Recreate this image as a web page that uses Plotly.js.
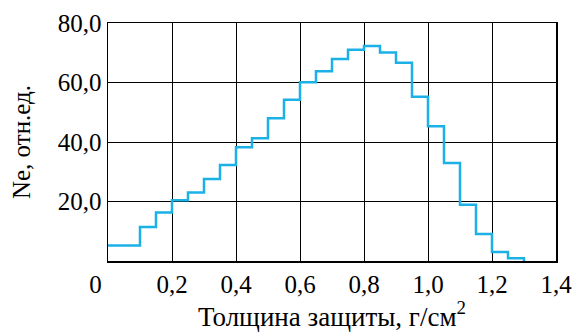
<!DOCTYPE html>
<html>
<head>
<meta charset="utf-8">
<script src="https://cdn.plot.ly/plotly-3.0.1.min.js"></script>
<style>html,body{margin:0;padding:0;background:#fff;}#chart{width:574px;height:332px;}</style>
</head>
<body>
<div id="chart"></div>
<script>
// Bin left edges (g/cm^2) and relative Ne values
const binStart = [0, 0.10, 0.15, 0.20, 0.25, 0.30, 0.35, 0.40, 0.45, 0.50, 0.55, 0.60, 0.65, 0.70, 0.75, 0.80, 0.85, 0.90, 0.95, 1.00, 1.05, 1.10, 1.15, 1.20, 1.25];
const neValues = [5.2, 11.4, 16.3, 20.4, 23.0, 27.6, 32.3, 38.2, 41.3, 48.0, 54.2, 60.1, 63.8, 67.9, 71.0, 72.3, 70.1, 66.6, 55.2, 45.3, 32.9, 18.9, 9.1, 3.0, 0.9];
const lastEdge = 1.30;

const xTickVals = [0, 0.2, 0.4, 0.6, 0.8, 1.0, 1.2, 1.4];
const xTickText = ["0\u00a0\u00a0\u00a0\u00a0", "0,2", "0,4", "0,6", "0,8", "1,0", "1,2", "1,4"];
const yTickVals = [20, 40, 60, 80];
const yTickText = ["20,0", "40,0", "60,0", "80,0"];

const xs = binStart.concat([lastEdge, lastEdge]);
const ys = neValues.concat([neValues[neValues.length - 1], 0]);

const font = {family: "Liberation Serif, DejaVu Serif, serif", size: 25, color: "#000"};
const xTitleFont = {family: "Liberation Serif, DejaVu Serif, serif", size: 27, color: "#000"};

Plotly.newPlot("chart", [{
  x: xs, y: ys, type: "scatter", mode: "lines",
  line: {shape: "hv", color: "#1bb1e7", width: 2.5},
  hoverinfo: "none"
}], {
  width: 574, height: 332,
  margin: {l: 108, r: 18, t: 23, b: 71},
  paper_bgcolor: "#fff", plot_bgcolor: "#fff",
  showlegend: false,
  font: font,
  xaxis: {
    range: [0, 1.4], tickvals: xTickVals, ticktext: xTickText,
    showgrid: true, gridcolor: "#000", gridwidth: 1,
    showline: true, linecolor: "#000", linewidth: 1.5, mirror: true,
    zeroline: false, ticks: "", ticklen: 0,
    tickfont: font,
    title: {text: "Толщина защиты, г/см<sup>2</sup>", font: xTitleFont, standoff: 9}
  },
  yaxis: {
    range: [0, 80], tickvals: yTickVals, ticktext: yTickText,
    showgrid: true, gridcolor: "#000", gridwidth: 1,
    showline: true, linecolor: "#000", linewidth: 1.5, mirror: true,
    zeroline: false, ticks: "", ticklen: 0,
    tickfont: font,
    title: {text: "Ne, отн.ед.", font: font, standoff: 20}
  }
}, {staticPlot: true, displayModeBar: false});
</script>
</body>
</html>
